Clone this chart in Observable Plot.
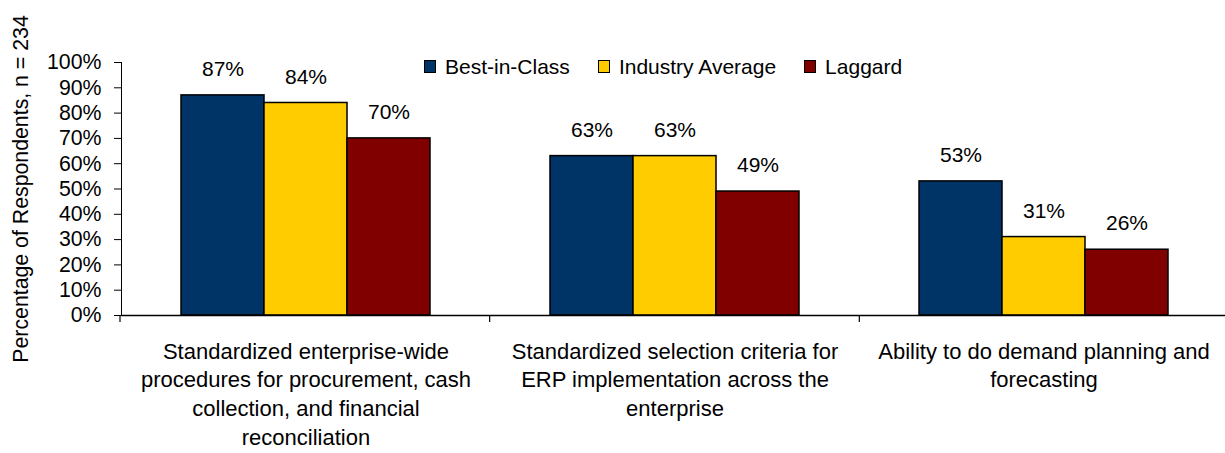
<!DOCTYPE html>
<html><head><meta charset="utf-8">
<script src="https://cdn.jsdelivr.net/npm/d3@7"></script>
<script src="https://cdn.jsdelivr.net/npm/@observablehq/plot@0.6"></script>
<style>
body{margin:0;background:#fff;font-family:"Liberation Sans",Arial,sans-serif;}
#wrap{position:relative;width:1225px;height:453px;overflow:hidden;}
#legend{position:absolute;left:424px;top:56px;display:flex;align-items:center;font-size:21px;line-height:21px;color:#000;}
.item{display:flex;align-items:center;margin-right:28px;}
.sw{width:12px;height:13px;box-sizing:border-box;border:1.5px solid #000;margin-right:9px;}
</style></head><body><div id="wrap"></div>
<script>
const categories = [
  "Standardized enterprise-wide\nprocedures for procurement, cash\ncollection, and financial\nreconciliation",
  "Standardized selection criteria for\nERP implementation across the\nenterprise",
  "Ability to do demand planning and\nforecasting"
];
const series = ["Best-in-Class", "Industry Average", "Laggard"];
const colors = ["#003366", "#FFCC00", "#800000"];
const bestInClass = [87, 63, 53];
const industryAverage = [84, 63, 31];
const laggard = [70, 49, 26];
const yTicks = [0, 10, 20, 30, 40, 50, 60, 70, 80, 90, 100];
const yLabel = "Percentage of Respondents, n = 234";

const valuesBySeries = [bestInClass, industryAverage, laggard];
const rows = [];
categories.forEach((c, i) => series.forEach((s, j) => rows.push({category: c, series: s, value: valuesBySeries[j][i]})));

const plot = Plot.plot({
  width: 1225, height: 453,
  marginTop: 62, marginBottom: 138, marginLeft: 120, marginRight: -4,
  style: {fontFamily: '"Liberation Sans", Arial, sans-serif', fontSize: "21.3px", color: "#000", background: "transparent"},
  fx: {domain: categories, padding: 0, axis: null},
  x: {domain: series, paddingInner: 0, paddingOuter: 0.7, axis: null},
  y: {domain: [0, 100], ticks: yTicks, tickFormat: d => d + "%", tickSize: 7, tickPadding: 13, line: true,
      label: yLabel, labelAnchor: "center", labelArrow: "none", labelOffset: 109},
  color: {domain: series, range: colors},
  marks: [
    Plot.barY(rows, {fx: "category", x: "series", y: "value", fill: "series", stroke: "#000", strokeWidth: 1.5}),
    Plot.text(rows, {fx: "category", x: "series", y: "value", text: d => d.value + "%", dy: -26, fontSize: 21}),
    Plot.ruleY([0], {stroke: "#000", strokeWidth: 1.5}),
    Plot.text(categories.map(c => ({category: c})), {fx: "category", text: "category", frameAnchor: "bottom", lineAnchor: "top", dy: 23, fontSize: 22, lineHeight: 1.3})
  ]
});

// category boundary ticks on the x axis, from the fx scale
(function(){
  const fx = plot.scale("fx");
  const y = plot.scale("y");
  const band = d3.scaleBand(fx.domain, fx.range).paddingInner(fx.paddingInner ?? 0).paddingOuter(fx.paddingOuter ?? 0).align(fx.align ?? 0.5);
  const y0 = y.apply(0);
  const xs = fx.domain.map(d => band(d)).concat([band(fx.domain[fx.domain.length - 1]) + band.bandwidth()]);
  const g = d3.select(plot).append("g").attr("stroke", "#000").attr("stroke-width", 1.2);
  xs.forEach(x => g.append("line").attr("x1", x).attr("x2", x).attr("y1", y0).attr("y2", y0 + 7));
})();

const wrap = document.getElementById("wrap");
wrap.appendChild(plot);
const legend = document.createElement("div");
legend.id = "legend";
series.forEach((s, j) => {
  const it = document.createElement("div"); it.className = "item";
  const sw = document.createElement("span"); sw.className = "sw"; sw.style.background = colors[j];
  const t = document.createElement("span"); t.textContent = s;
  it.appendChild(sw); it.appendChild(t); legend.appendChild(it);
});
wrap.appendChild(legend);
</script></body></html>
